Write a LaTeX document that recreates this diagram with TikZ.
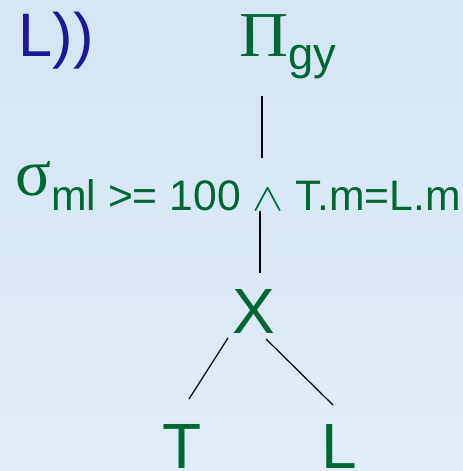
\documentclass[tikz,border=0pt]{standalone}
\usepackage{fontspec}
\setmainfont{Liberation Sans}
\newfontfamily\grk{Liberation Serif}
\definecolor{relgreen}{RGB}{0,102,51}
\definecolor{oldblue}{RGB}{26,26,153}
\definecolor{skytop}{RGB}{212,229,244}
\definecolor{skymid}{RGB}{233,242,250}
\definecolor{skybot}{RGB}{224,236,247}

\begin{document}
\begin{tikzpicture}[x=0.75pt, y=-0.75pt,
  op/.style={text=relgreen, inner sep=0pt, anchor=base west},
  edge/.style={line width=0.9pt}]
\shade[top color=skytop, middle color=skymid, bottom color=skybot] (0,0) rectangle (463,471);
\useasboundingbox (0,0) rectangle (463,471);
\coordinate (A) at (262,96);
\coordinate (B) at (262,158);
\coordinate (C) at (260,211);
\coordinate (D) at (260,273);
\coordinate (E) at (228,338);
\coordinate (F) at (189,399);
\coordinate (G) at (266,339);
\coordinate (H) at (333,405);
\draw[edge] (A) -- (B);
\draw[edge] (C) -- (D);
\draw[edge] (E) -- (F);
\draw[edge] (G) -- (H);
\node[text=oldblue, inner sep=0pt, anchor=base west, font=\fontsize{46}{48}\selectfont] (tail) at (18.5,56) {L))};
\node[op, font=\fontsize{48}{50}\selectfont] (proj) at (239,56) {{\grk\scalebox{1.06}[1]{Π}}\raisebox{-10pt}{\fontsize{34}{36}\selectfont gy}};
\node[op, font=\fontsize{50}{52}\selectfont] (sel) at (15,195) {{\grk σ}\raisebox{-11.25pt}{\fontsize{32}{34}\selectfont ml >= 100 \scalebox{3.5}[2.9]{\fontsize{10}{12}\selectfont$\wedge$} T.m=L.m}};
\node[op, font=\fontsize{48}{50}\selectfont] (join) at (232,333) {X};
\node[op, font=\fontsize{48}{50}\selectfont] (relT) at (162,468) {T};
\node[op, font=\fontsize{48}{50}\selectfont] (relL) at (321,468) {L};
\end{tikzpicture}
\end{document}
